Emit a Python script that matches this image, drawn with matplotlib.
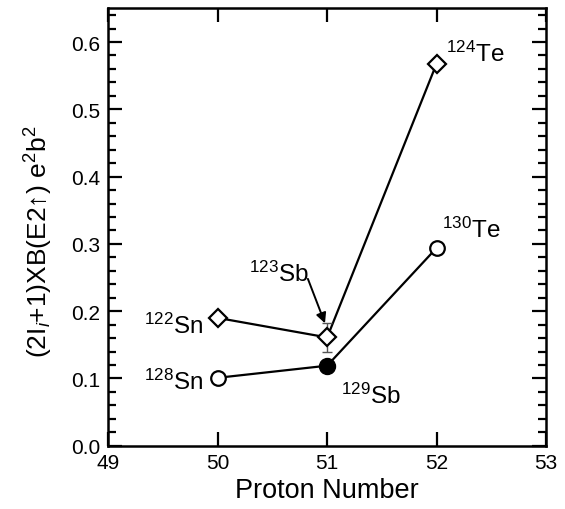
import matplotlib
matplotlib.use("Agg")
import matplotlib.pyplot as plt
from matplotlib.ticker import MultipleLocator

plt.rcParams['font.family'] = ['Liberation Sans', 'DejaVu Sans']
plt.rcParams['mathtext.fontset'] = 'custom'
plt.rcParams['mathtext.rm'] = 'Liberation Sans'
plt.rcParams['mathtext.it'] = 'Liberation Sans:italic'

# data
protons = [50, 51, 52]
odd_a_lo = [0.190, 0.161, 0.568]     # 122Sn, 123Sb, 124Te (diamonds)
odd_a_hi = [0.101, 0.119, 0.294]     # 128Sn, 129Sb, 130Te (circles)
sb123_err = 0.021
lo_labels = ["122Sn", "123Sb", "124Te"]
hi_labels = ["128Sn", "129Sb", "130Te"]

fig = plt.figure(figsize=(5.65, 5.10), dpi=100)
ax = fig.add_axes([0.1917, 0.124, 0.7747, 0.8576])

# diamond series
ax.plot(protons, odd_a_lo, color='black', lw=1.6, zorder=2)
ax.errorbar(protons[1], odd_a_lo[1], yerr=sb123_err, fmt='none',
            ecolor='#555555', elinewidth=1, capsize=3.5, capthick=1, zorder=2)
ax.plot(protons, odd_a_lo, 'D', ms=9.5, mfc='white', mec='black', mew=1.6,
        ls='none', zorder=3)

# circle series
ax.plot(protons, odd_a_hi, color='black', lw=1.6, zorder=2)
ax.plot([protons[0], protons[2]], [odd_a_hi[0], odd_a_hi[2]], 'o', ms=10.5,
        mfc='white', mec='black', mew=1.6, ls='none', zorder=3)
ax.plot(protons[1], odd_a_hi[1], 'o', ms=11.5, mfc='black', mec='black',
        mew=1, ls='none', zorder=3)

def iso(lbl):
    mass = lbl[:3]
    el = lbl[3:]
    return r"$^{%s}$%s" % (mass, el)

fs = 17.5
ax.text(52.09, 0.572, iso(lo_labels[2]), fontsize=fs)
ax.text(52.045, 0.311, iso(hi_labels[2]), fontsize=fs)
ax.text(49.33, 0.168, iso(lo_labels[0]), fontsize=fs)
ax.text(49.33, 0.084, iso(hi_labels[0]), fontsize=fs)
ax.text(51.13, 0.0634, iso(hi_labels[1]), fontsize=fs)
ax.text(50.29, 0.245, iso(lo_labels[1]), fontsize=fs)
ax.annotate('', xy=(50.98, 0.182), xytext=(50.824, 0.248),
            arrowprops=dict(arrowstyle='-|>', color='black', lw=1.4,
                            mutation_scale=15, shrinkA=0, shrinkB=0))

ax.set_xlim(49, 53)
ax.set_ylim(0, 0.65)
ax.xaxis.set_major_locator(MultipleLocator(1))
ax.yaxis.set_major_locator(MultipleLocator(0.1))
ax.yaxis.set_minor_locator(MultipleLocator(0.02))
ax.tick_params(which='both', direction='in', top=True, right=True, width=1.6,
               labelsize=15)
ax.tick_params(axis='y', pad=6)
ax.tick_params(axis='x', pad=5.5)
ax.tick_params(which='major', length=10)
ax.tick_params(which='minor', length=6)
ax.set_yticks([0, 0.1, 0.2, 0.3, 0.4, 0.5, 0.6])
ax.set_yticklabels(["0.0", "0.1", "0.2", "0.3", "0.4", "0.5", "0.6"])
for s in ax.spines.values():
    s.set_linewidth(1.8)

ax.set_xlabel("Proton Number", fontsize=19.5, labelpad=3)
ax.set_ylabel("(2I$_{\\mathit{i}}$+1)XB(E2↑) e$^2$b$^2$", fontsize=19)
ax.yaxis.set_label_coords(-0.122, 0.469)

fig.savefig("out.png", dpi=100)
